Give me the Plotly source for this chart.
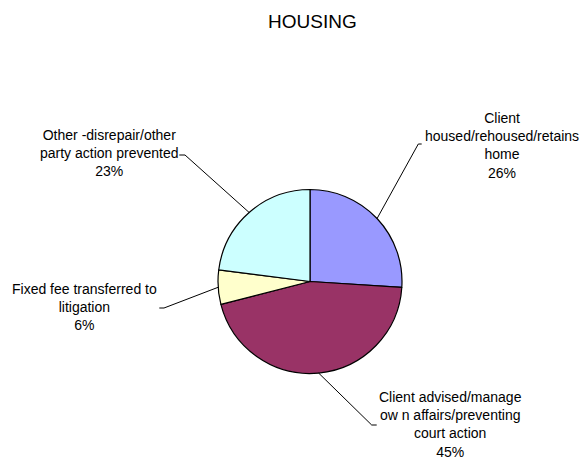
import math
import plotly.graph_objects as go

W, H = 585, 459

categories = [
    "Client<br>housed/rehoused/retains<br>home",
    "Client advised/manage<br>ow n affairs/preventing<br>court action",
    "Fixed fee transferred to<br>litigation",
    "Other -disrepair/other<br>party action prevented",
]
values = [26, 45, 6, 23]
colors = ["#9999FF", "#993366", "#FFFFCC", "#CCFFFF"]

# layout (pixels)
CX, CY, R = 310, 281.5, 92
label_pos = [(501.7, 145), (450, 424), (84, 307), (109, 153)]
elbows = [(418.3, 144), (371.7, 425), (164, 308), (185, 155)]
tips = [(421.7, 144), (376.7, 425), (159.3, 308), (179.3, 155)]


def px(x):
    return x / W


def py(y):
    return 1 - y / H


fig = go.Figure(go.Pie(
    labels=[c.replace("<br>", " ") for c in categories],
    values=values,
    sort=False,
    direction="clockwise",
    rotation=0,
    textinfo="none",
    hoverinfo="label+percent",
    marker=dict(colors=colors, line=dict(color="black", width=1.2)),
    domain=dict(x=[px(CX - R), px(CX + R)], y=[py(CY + R), py(CY - R)]),
    showlegend=False,
))

total = sum(values)
cum = 0
annotations = []
shapes = []
for i, v in enumerate(values):
    mid = (cum + v / 2) / total * 2 * math.pi
    cum += v
    sx = CX + R * math.sin(mid)
    sy = CY - R * math.cos(mid)
    pct = round(v / total * 100)
    lx, ly = label_pos[i]
    annotations.append(dict(
        x=px(lx), y=py(ly), xref="paper", yref="paper",
        text=f"{categories[i]}<br>{pct}%", showarrow=False,
        xanchor="center", yanchor="middle", align="center",
        font=dict(family="Liberation Sans, Arial, sans-serif", size=14, color="black"),
    ))
    ex, ey = elbows[i]
    tx, ty = tips[i]
    path = f"M {px(sx)} {py(sy)} L {px(ex)} {py(ey)} L {px(tx)} {py(ty)}"
    shapes.append(dict(type="path", xref="paper", yref="paper", path=path,
                       line=dict(color="black", width=1)))

annotations.append(dict(
    x=px(312.5), y=py(22), xref="paper", yref="paper", text="HOUSING",
    showarrow=False, xanchor="center", yanchor="middle",
    font=dict(family="Liberation Sans, Arial, sans-serif", size=19, color="black"),
))

fig.update_layout(
    width=W, height=H,
    margin=dict(l=0, r=0, t=0, b=0),
    paper_bgcolor="white", plot_bgcolor="white",
    annotations=annotations, shapes=shapes,
)

fig.write_html("out.html", config={"displayModeBar": False},
               post_script="document.body.style.margin='0px';")
